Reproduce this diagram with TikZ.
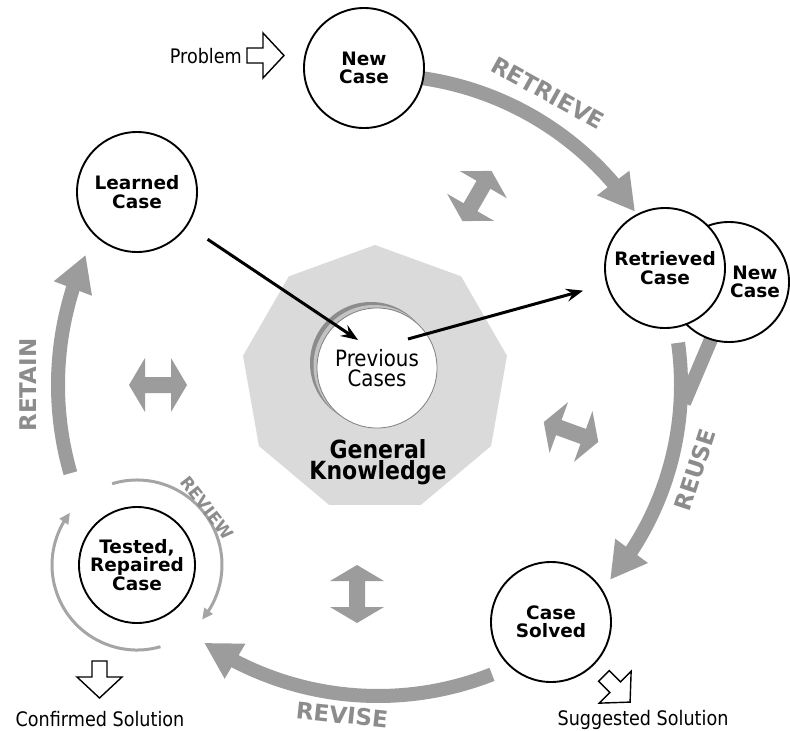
\documentclass[tikz,border=0pt]{standalone}
\usepackage{fontspec}
\setmainfont{DejaVu Sans}
\newfontfamily\tah{DejaVu Sans}[FakeStretch=0.88]
\usetikzlibrary{arrows.meta,bending,shapes.geometric}
\definecolor{arcgray}{RGB}{156,156,156}
\definecolor{labgray}{RGB}{140,140,140}
\definecolor{gkgray}{RGB}{218,218,218}
\definecolor{revgray}{RGB}{165,165,165}
\definecolor{shadowA}{RGB}{140,140,140}
\definecolor{shadowB}{RGB}{195,195,195}
\begin{document}
\begin{tikzpicture}[x=1pt,y=-1pt,
  casenode/.style={circle,draw=black,line width=1.9pt,fill=white,minimum size=120pt,inner sep=0pt,align=center,font=\fontsize{18.5}{18.5}\selectfont\bfseries},
  bigarrow/.style={draw=arcgray,line width=14pt,-{Triangle[length=36pt,width=38pt]}},
  phase/.style={text=labgray,font=\fontsize{23}{23}\selectfont\bfseries,inner sep=0pt},
  plain/.style={font=\tah\fontsize{20}{20}\selectfont,inner sep=0pt},
  conn/.style={line width=3pt,-{Stealth[length=17pt,width=13pt,inset=6pt]}},
  revarc/.style={draw=revgray,line width=3pt,-{Triangle[length=11pt,width=10pt]}},
  dblarrow/.pic={\fill[arcgray] (-29,0) -- (-13,-27) -- (-13,-8) -- (13,-8) -- (13,-27) -- (29,0) -- (13,27) -- (13,8) -- (-13,8) -- (-13,27) -- cycle;},
  hollowarr/.pic={\draw[line width=1.4pt,fill=white] (-18.5,-7.5) -- (-2.5,-7.5) -- (-2.5,-22.5) -- (18.5,0) -- (-2.5,22.5) -- (-2.5,7.5) -- (-18.5,7.5) -- cycle;}
]
\useasboundingbox (0,0) rectangle (790,731);
\fill[white] (0,0) rectangle (790,731);

% general knowledge nonagon
\fill[gkgray] plot[samples at={0,...,8}] ({375+134*cos(90+40*\x)},{379-134*sin(90+40*\x)}) -- cycle;

% previous cases with shadow
\fill[shadowA] (371,363) circle[radius=61];
\fill[shadowB] (374,365.5) circle[radius=60.5];
\node[circle,fill=white,draw=gray,line width=0.8pt,minimum size=120pt,inner sep=0pt,align=center,font=\tah\fontsize{22.5}{20.5}\selectfont] (prev) at (377,368) {Previous\\Cases};
\node[align=center,inner sep=0pt,font=\tah\bfseries\fontsize{25}{21}\selectfont] (gk) at (378,462) {General\\Knowledge};

% big cycle arrows
\coordinate (C) at (378,385);
\draw[bigarrow] (C) ++(-85:310) arc[start angle=-85,end angle=-34,radius=310];
\draw[bigarrow] (C) ++(-8:303) arc[start angle=-8,end angle=40,radius=303];
\draw[draw=arcgray,line width=14pt] (712,337) -- (684,403);
\draw[bigarrow] (C) ++(68.5:311) arc[start angle=68.5,end angle=124,radius=311];
\draw[bigarrow] (C) ++(-196:320) arc[start angle=-196,end angle=-156,radius=320];

% case nodes
\node[casenode] (newcase) at (364,68) {New\\Case};
\node[casenode] (learned) at (137,192) {Learned\\Case};
\node[casenode] (newcase2) at (729,282) {\hspace*{52pt}New\\\hspace*{52pt}Case};
\node[casenode] (retr) at (665,268) {Retrieved\\Case};
\node[casenode] (solved) at (551,622) {Case\\Solved};
\node[casenode,minimum size=116pt] (tested) at (137,565) {Tested,\\Repaired\\Case};

% connectors to/from previous cases
\coordinate (pin) at (358,340);
\coordinate (pout) at (408,339);
\draw[conn,shorten <=24pt] (learned) -- (pin);
\draw[conn,shorten >=24pt] (pout) -- (retr);

% review arcs
\draw[revarc] (tested) ++(-107:85) arc[start angle=-107,end angle=40,radius=85];
\draw[revarc] (tested) ++(74:85) arc[start angle=74,end angle=218,radius=85];

% double arrows
\pic[rotate=60] at (477,196) {dblarrow};
\pic[rotate=-20] at (571,432) {dblarrow};
\pic[rotate=90] at (357,594) {dblarrow};
\pic at (158,385) {dblarrow};

% hollow arrows
\pic at (265.5,55.5) {hollowarr};
\pic[rotate=-90] at (99.5,679.5) {hollowarr};
\pic[rotate=-45] at (617,689) {hollowarr};

% labels
\node[phase,rotate=-29] (tretrieve) at (548,93) {RETRIEVE};
\node[phase,rotate=72] (treuse) at (695,470) {REUSE};
\node[phase,rotate=-6] (trevise) at (342,715) {REVISE};
\node[phase,rotate=90] (tretain) at (28,385) {RETAIN};
\node[text=labgray,font=\fontsize{17}{17}\selectfont\bfseries,inner sep=0pt,rotate=-52] (treview) at (207,508) {REVIEW};

\node[plain,anchor=base east] (problem) at (242,63) {Problem};
\node[plain,anchor=base] (confirmed) at (100,726) {Confirmed Solution};
\node[plain,anchor=base] (suggested) at (643,725) {Suggested Solution};
\end{tikzpicture}
\end{document}
